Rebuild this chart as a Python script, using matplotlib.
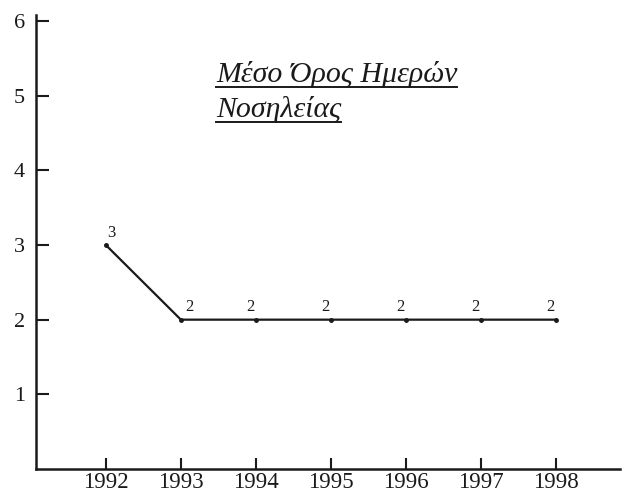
import matplotlib.pyplot as plt

# Δεδομένα
years = [1992, 1993, 1994, 1995, 1996, 1997, 1998]
mean_days = [3, 2, 2, 2, 2, 2, 2]
y_ticks = [1, 2, 3, 4, 5, 6]
title_lines = ["Μέσο Όρος Ημερών", "Νοσηλείας"]

plt.rcParams["font.family"] = ["Liberation Serif", "DejaVu Serif"]

fig = plt.figure(figsize=(6.34, 4.94), dpi=100)
ax = fig.add_axes([0.0568, 0.0506, 0.921, 0.919])

ax.plot(years, mean_days, color="#1a1a1a", linewidth=1.6,
        marker="o", markersize=2.5)

# ετικέτες τιμών
offsets = [(1, 3), (3, 3), (-7, 3), (-7, 3), (-7, 3), (-7, 3), (-7, 3)]
for x, y, (dx, dy) in zip(years, mean_days, offsets):
    ax.annotate(str(y), (x, y), xytext=(dx, dy), textcoords="offset points",
                fontsize=12, color="#1a1a1a", ha="left", va="bottom")

ax.set_xlim(1991.07, 1998.85)
ax.set_ylim(0, 6.08)
ax.set_xticks(years)
ax.set_xticklabels([str(y) for y in years])
ax.set_yticks(y_ticks)
ax.set_yticklabels([str(t) for t in y_ticks])

ax.tick_params(axis="x", direction="in", length=8, width=1.5,
               labelsize=16.5, pad=2, colors="#1a1a1a")
ax.tick_params(axis="y", direction="in", length=9, width=1.5,
               labelsize=16, pad=8, colors="#1a1a1a")

for side in ("top", "right"):
    ax.spines[side].set_visible(False)
for side in ("left", "bottom"):
    ax.spines[side].set_linewidth(1.8)
    ax.spines[side].set_color("#1a1a1a")

# τίτλος, πλάγιος και υπογραμμισμένος
fig.canvas.draw()
renderer = fig.canvas.get_renderer()
inv = fig.transFigure.inverted()
baselines = [0.833, 0.764]
for line, yb in zip(title_lines, baselines):
    t = fig.text(216 / 634, yb, line, fontsize=21.5, style="italic",
                 color="#1a1a1a", va="baseline", ha="left")
    bb = t.get_window_extent(renderer)
    (x0, _), (x1, _) = inv.transform([(bb.x0, 0), (bb.x1, 0)])
    fig.add_artist(plt.Line2D([x0, x1], [yb - 0.01, yb - 0.01],
                              transform=fig.transFigure,
                              color="#1a1a1a", linewidth=1.4))

fig.savefig("out.png", dpi=100)
